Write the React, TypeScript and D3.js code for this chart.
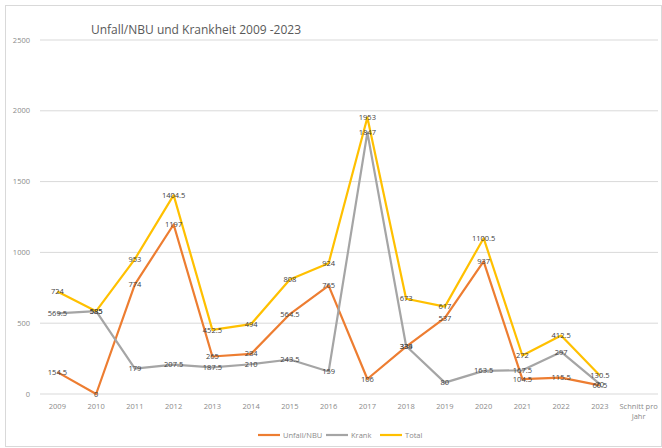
import React, { useEffect, useRef } from 'react';
import * as d3 from 'd3';

const categories = ['2009', '2010', '2011', '2012', '2013', '2014', '2015', '2016', '2017', '2018', '2019', '2020', '2021', '2022', '2023', 'Schnitt pro Jahr'];
const unfall = [154.5, 0, 774, 1197, 265, 284, 564.5, 765, 106, 334, 537, 937, 104.5, 115.5, 60.5];
const krank = [569.5, 585, 179, 207.5, 187.5, 210, 243.5, 159, 1847, 339, 80, 163.5, 167.5, 297, 70];
const total = [724, 585, 953, 1404.5, 452.5, 494, 808, 924, 1953, 673, 617, 1100.5, 272, 412.5, 130.5];
const yTicks = [0, 500, 1000, 1500, 2000, 2500];

const series = [
  { name: 'Unfall/NBU', values: unfall, color: '#ED7D31' },
  { name: 'Krank', values: krank, color: '#A5A5A5' },
  { name: 'Total', values: total, color: '#FFC000' },
];

export default function App() {
  const ref = useRef<SVGSVGElement>(null);

  useEffect(() => {
    if (!ref.current) return;
    const svg = d3.select(ref.current);
    svg.selectAll('*').remove();

    const width = 662;
    const height = 448;
    const font = "'Open Sans', 'Liberation Sans', sans-serif";

    // chart border
    svg.append('rect')
      .attr('x', 5.5).attr('y', 5.5)
      .attr('width', width - 6).attr('height', height - 7)
      .attr('fill', '#fff')
      .attr('stroke', '#d9d9d9');

    const x = d3.scalePoint<string>()
      .domain(categories)
      .range([38, 658])
      .padding(0.5);

    const y = d3.scaleLinear()
      .domain([0, 2500])
      .range([394, 40]);

    // gridlines
    svg.append('g')
      .selectAll('line')
      .data(yTicks)
      .enter()
      .append('line')
      .attr('x1', 40).attr('x2', 658)
      .attr('y1', d => y(d)).attr('y2', d => y(d))
      .attr('stroke', '#d9d9d9')
      .attr('stroke-width', 1);

    // y labels
    svg.append('g')
      .selectAll('text')
      .data(yTicks)
      .enter()
      .append('text')
      .attr('x', 30)
      .attr('y', d => y(d))
      .attr('dy', '0.35em')
      .attr('text-anchor', 'end')
      .attr('font-family', font)
      .attr('font-size', 7.5)
      .attr('fill', '#8a8a8a')
      .text(d => String(d));

    // x labels
    const xl = svg.append('g')
      .selectAll('text')
      .data(categories)
      .enter()
      .append('text')
      .attr('x', d => x(d)!)
      .attr('y', 409)
      .attr('text-anchor', 'middle')
      .attr('font-family', font)
      .attr('font-size', 7.5)
      .attr('fill', '#8a8a8a');
    xl.each(function (d) {
      const t = d3.select(this);
      if (d === 'Schnitt pro Jahr') {
        t.append('tspan').attr('x', x(d)!).text('Schnitt pro');
        t.append('tspan').attr('x', x(d)!).attr('dy', 10).text('Jahr');
      } else {
        t.text(d);
      }
    });

    const line = d3.line<number>()
      .x((_, i) => x(categories[i])!)
      .y(d => y(d));

    series.forEach(s => {
      svg.append('path')
        .datum(s.values)
        .attr('fill', 'none')
        .attr('stroke', s.color)
        .attr('stroke-width', 2.2)
        .attr('stroke-linejoin', 'round')
        .attr('d', line);
    });

    // data labels, centred on the points
    series.forEach(s => {
      svg.append('g')
        .selectAll('text')
        .data(s.values)
        .enter()
        .append('text')
        .attr('x', (_, i) => x(categories[i])!)
        .attr('y', d => y(d))
        .attr('dy', '0.35em')
        .attr('text-anchor', 'middle')
        .attr('font-family', font)
        .attr('font-size', 7.5)
        .attr('fill', '#404040')
        .text(d => String(d));
    });

    // title
    svg.append('text')
      .attr('x', 196)
      .attr('y', 34)
      .attr('text-anchor', 'middle')
      .attr('font-family', font)
      .attr('font-size', 12)
      .attr('fill', '#595959')
      .text('Unfall/NBU und Krankheit 2009 -2023');

    // legend
    const legendX = [258, 326, 380];
    series.forEach((s, i) => {
      const g = svg.append('g').attr('transform', `translate(${legendX[i]},435)`);
      g.append('line')
        .attr('x1', 0).attr('x2', 22)
        .attr('stroke', s.color)
        .attr('stroke-width', 2.2);
      g.append('text')
        .attr('x', 25)
        .attr('dy', '0.35em')
        .attr('font-family', font)
        .attr('font-size', 7.5)
        .attr('fill', '#8a8a8a')
        .text(s.name);
    });
  }, []);

  return (
    <svg
      ref={ref}
      width={662}
      height={448}
      style={{ position: 'absolute', left: 0, top: 0, background: '#fff' }}
    />
  );
}
